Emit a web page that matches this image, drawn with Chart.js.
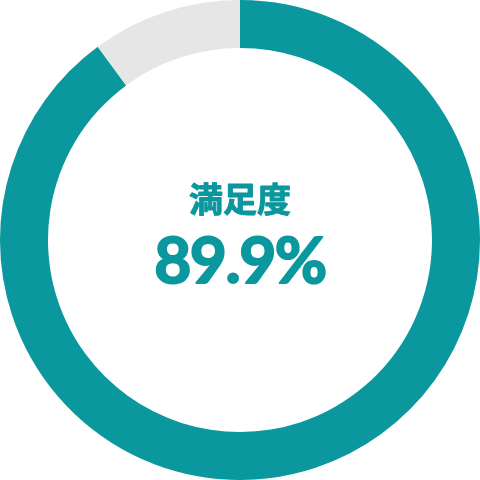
<!DOCTYPE html>
<html>
<head>
<meta charset="utf-8">
<script src="https://cdn.jsdelivr.net/npm/chart.js@4"></script>
<style>
  html, body { margin: 0; padding: 0; background: #fff; }
  #wrap { width: 480px; height: 480px; }
</style>
</head>
<body>
<div id="wrap"><canvas id="myChart" width="480" height="480"></canvas></div>
<script>
// data
var labels = ["満足", "その他"];
var values = [89.9, 10.1];
var colors = ["#0a979e", "#e6e6e6"];
var title = "満足度";
var valueText = "89.9%";

var centerText = {
  id: "centerText",
  afterDraw: function (chart) {
    var ctx = chart.ctx;
    var meta = chart.getDatasetMeta(0).data[0];
    var cx = meta.x, cy = meta.y;
    ctx.save();
    ctx.fillStyle = "#0a979e";
    ctx.strokeStyle = "#0a979e";
    ctx.lineJoin = "round";
    ctx.textAlign = "center";
    ctx.textBaseline = "middle";
    ctx.font = "bold 34px 'Noto Sans CJK JP'";
    ctx.lineWidth = 1;
    ctx.fillText(title, cx, cy - 41);
    ctx.strokeText(title, cx, cy - 41);
    // big number, a bit heavier than plain Lato bold
    ctx.font = "bold 64px Lato";
    ctx.letterSpacing = "-1.5px";
    ctx.lineWidth = 2;
    ctx.fillText(valueText, cx, cy + 22);
    ctx.strokeText(valueText, cx, cy + 22);
    ctx.restore();
  }
};

var ctx = document.getElementById("myChart").getContext("2d");
var chart = new Chart(ctx, {
  type: "doughnut",
  data: {
    labels: labels,
    datasets: [
      {
        data: values,
        backgroundColor: colors,
        borderWidth: 0
      }
    ]
  },
  options: {
    responsive: false,
    animation: false,
    cutout: "80%",
    layout: { padding: 0 },
    plugins: {
      legend: { display: false },
      tooltip: { enabled: false }
    }
  },
  plugins: [centerText]
});
</script>
</body>
</html>
